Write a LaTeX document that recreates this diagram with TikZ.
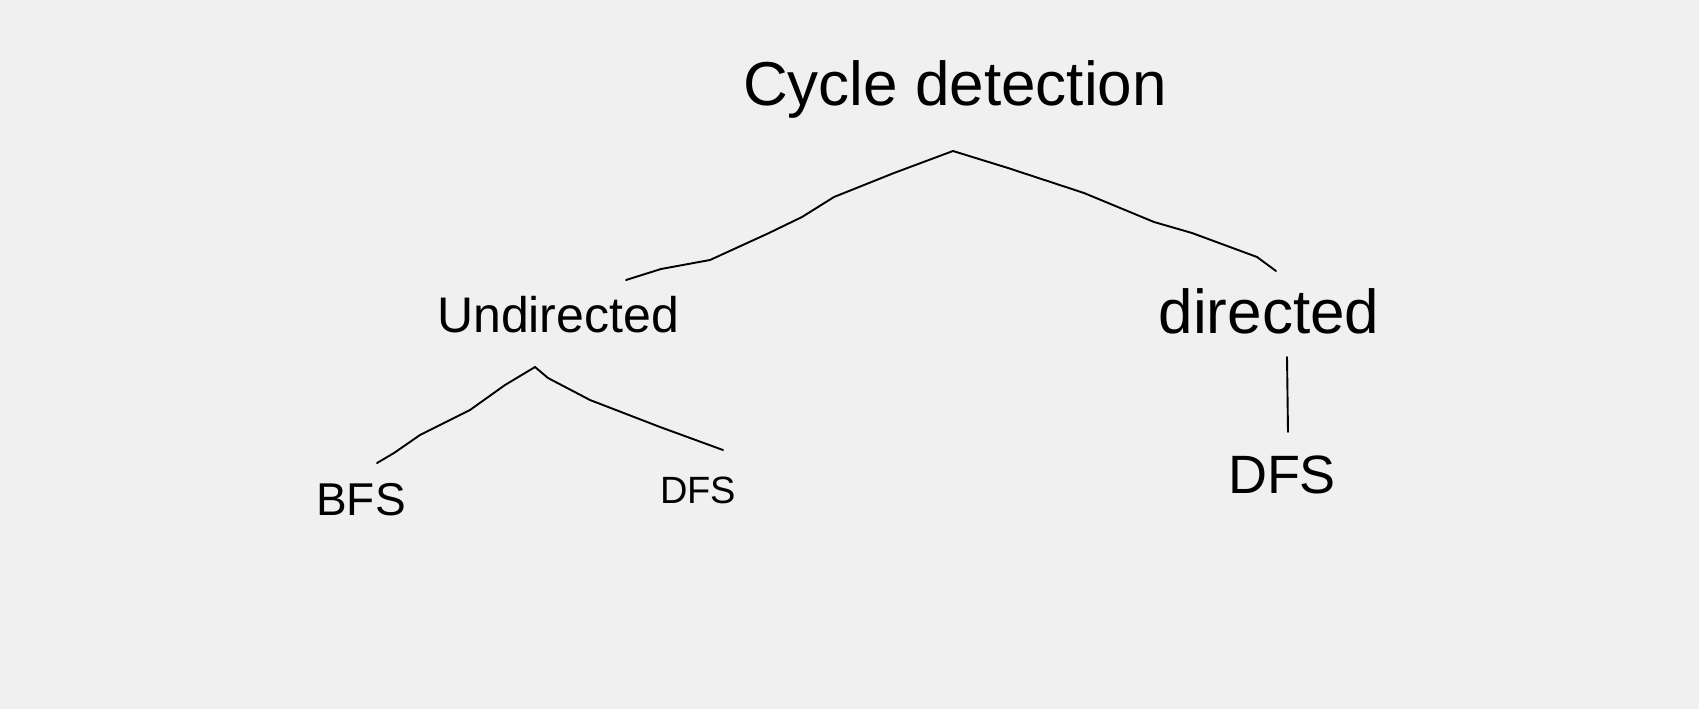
\documentclass[tikz,border=0pt]{standalone}
\usepackage{fontspec}
\setmainfont{Liberation Sans}
\usetikzlibrary{positioning}

\begin{document}
\begin{tikzpicture}[
  x=1pt, y=-1pt,
  hand/.style={font=\fontsize{#1}{#1}\selectfont, inner sep=0pt, anchor=base, text=black},
  stroke/.style={draw=black, line width=1.9pt, line join=round, line cap=round}
]

% page and background
\useasboundingbox[fill={rgb,255:red,240;green,240;blue,240}] (0,0) rectangle (1699,709);

% words
\node[hand=62] (cycle) at (955,105) {Cycle detection};
\node[hand=50] (undir) at (558,332) {Undirected};
\node[hand=62] (dir) at (1269,333) {directed};
\node[hand=46] (bfs) at (361,515) {BFS};
\node[hand=38] (dfsa) at (698,503) {DFS};
\node[hand=54] (dfsb) at (1282,493) {DFS};

% ends of the strokes
\coordinate (cycTip) at (953,151);
\coordinate (undTop) at (626,280);
\coordinate (dirTop) at (1276,271);
\coordinate (undTip) at (535,367);
\coordinate (bfsTop) at (377,463);
\coordinate (dfsaTop) at (723,450);
\coordinate (dirTip) at (1287,357);
\coordinate (dfsbTop) at (1288,432);

% branches
\draw[stroke] (cycTip) -- (894,173) -- (834,197) -- (802,217) -- (769,233) -- (710,260) -- (661,269) -- (undTop);
\draw[stroke] (cycTip) -- (1008,168) -- (1084,193) -- (1154,222) -- (1192,233) -- (1257,257) -- (dirTop);
\draw[stroke] (undTip) -- (505,385) -- (470,410) -- (420,435) -- (394,453) -- (bfsTop);
\draw[stroke] (undTip) -- (548,378) -- (590,400) -- (660,427) -- (dfsaTop);
\draw[stroke] (dirTip) -- (dfsbTop);

\end{tikzpicture}
\end{document}
